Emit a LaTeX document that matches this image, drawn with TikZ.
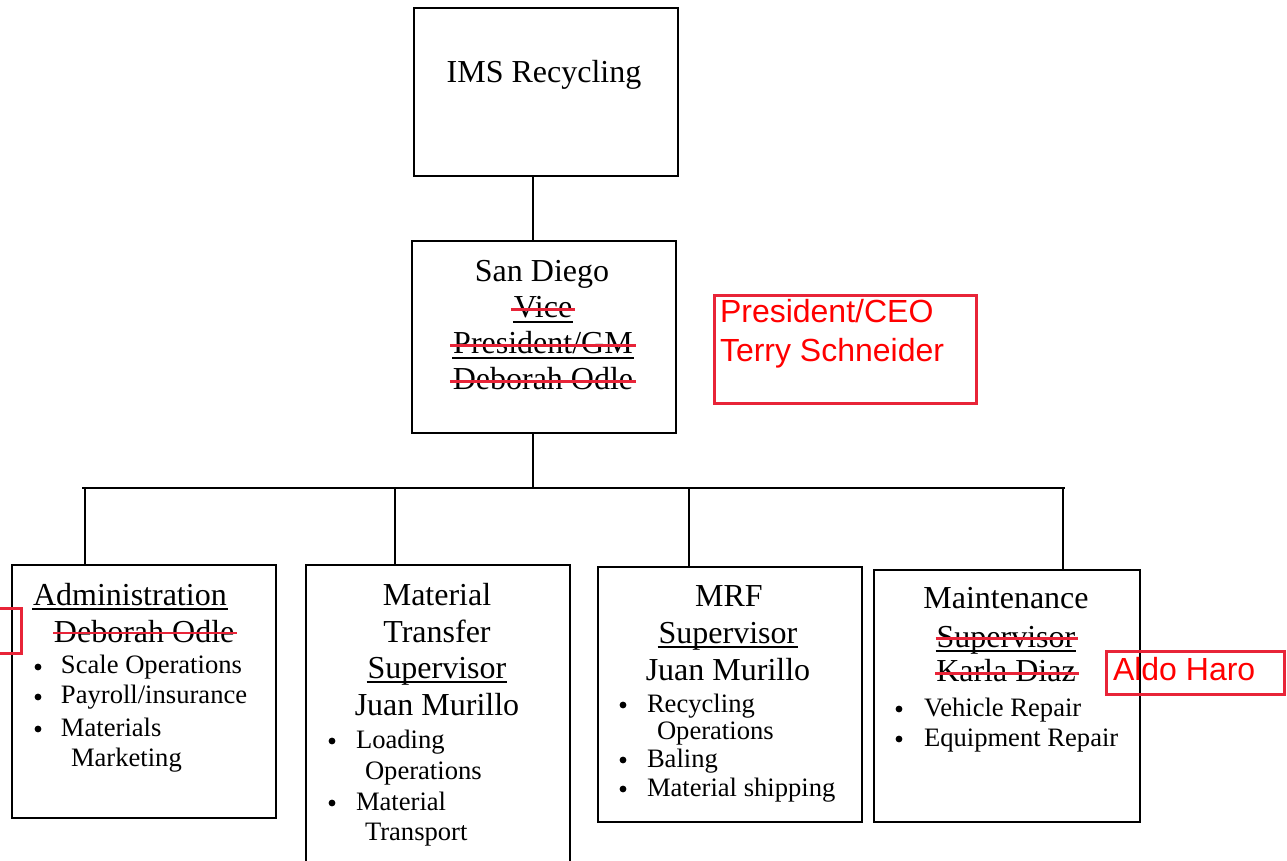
\documentclass[tikz,border=0pt]{standalone}
\usepackage{fontspec}
\setmainfont{Liberation Serif}
\newfontfamily\arialfont{Liberation Sans}
\usepackage{tikz}
\usetikzlibrary{positioning}

\definecolor{editred}{RGB}{232,36,56}
\definecolor{notered}{RGB}{255,0,0}

\newcommand\orghead{\fontsize{16}{19}\selectfont}
\newcommand\orgitem{\fontsize{13.3}{16}\selectfont}
\newcommand\orgnote{\arialfont\fontsize{16}{19}\selectfont}

\tikzset{
  orgbox/.style={draw, line width=1pt, anchor=north west, inner sep=0pt},
  notebox/.style={draw=editred, line width=1.3pt, inner sep=0pt},
  head/.style={font=\orghead, anchor=base, inner sep=0pt},
  headl/.style={font=\orghead, anchor=base west, inner sep=0pt},
  item/.style={font=\orgitem, anchor=base west, inner sep=0pt},
  dot/.style={circle, fill=black, inner sep=0pt, minimum size=3.4pt},
  note/.style={font=\orgnote, text=notered, anchor=base west, inner sep=0pt},
  strikeout/.style={draw=editred, line width=1.2pt},
  underl/.style={draw=black, line width=1pt}
}

\begin{document}
\begin{tikzpicture}[x=0.5pt,y=-0.5pt,line width=1pt]
\useasboundingbox (0,0) rectangle (1287,861);

%boxes
\node[orgbox,minimum width=132pt,minimum height=84pt] (ims) at (413,7) {};
\node[orgbox,minimum width=132pt,minimum height=96pt] (sd) at (411,240) {};
\node[orgbox,minimum width=132pt,minimum height=126.5pt] (admin) at (11,564) {};
\node[orgbox,minimum width=132pt,minimum height=153pt] (mt) at (305,564) {};
\node[orgbox,minimum width=132pt,minimum height=127.5pt] (mrf) at (597,566) {};
\node[orgbox,minimum width=133pt,minimum height=126pt] (mnt) at (873,569) {};

%connectors
\coordinate (spine) at (533,488);
\coordinate (barL) at (82,488);
\coordinate (barR) at (1065,488);
\draw (ims.south -| spine) -- (sd.north -| spine);
\draw (sd.south -| spine) -- (spine);
\draw (barL) -- (barR);
\foreach \n/\x in {admin/85, mt/395, mrf/689, mnt/1063}{
  \coordinate (d\n) at (\x,488);
  \draw (d\n) -- (d\n |- \n.north);
}

%top
\node[head] (imsname) at (544,83) {IMS Recycling};

%San Diego
\node[head] (sd1) at (542,282) {San Diego};
\node[head] (sd2) at (543,318) {Vice};
\node[head] (sd3) at (543,354) {President/GM};
\node[head] (sd4) at (543,390) {Deborah Odle};
\foreach \n in {sd2,sd3}
  \draw[underl] ([yshift=-2pt]\n.base west) -- ([yshift=-2pt]\n.base east);
\foreach \n in {sd2,sd3,sd4}
  \draw[strikeout] ([xshift=-1pt,yshift=4.2pt]\n.base west) -- ([xshift=1pt,yshift=4.2pt]\n.base east);

%new president
\node[notebox,anchor=north west,minimum width=131pt,minimum height=54pt] (ceo) at (713,294) {};
\node[note] (ceo1) at (719,323) {President/CEO};
\node[note] (ceo2) at (719,362) {Terry Schneider};

%Administration
\node[headl] (adm1) at (32,605) {Administration};
\node[headl] (adm2) at (53,642) {Deborah Odle};
\draw[underl] ([yshift=-2pt]adm1.base west) -- ([yshift=-2pt]adm1.base east);
\draw[strikeout] ([yshift=4.5pt]adm2.base west) -- ([xshift=1pt,yshift=4.5pt]adm2.base east);
\node[notebox,anchor=north east,minimum width=50pt,minimum height=22.5pt] (admnote) at (23,607) {};
\foreach \y/\t [count=\i] in {674/{Scale Operations}, 704/{Payroll/insurance}, 736/{Materials}}{
  \node[dot] (admb\i) at (38,\y-7) {};
  \node[item] (admt\i) at (60,\y) {\t};
}
\node[item] (admt4) at (70,766) {Marketing};

%Material Transfer
\node[head] (mt1) at (437,605) {Material};
\node[head] (mt2) at (437,642) {Transfer};
\node[head] (mt3) at (437,678) {Supervisor};
\node[head] (mt4) at (437,715) {Juan Murillo};
\draw[underl] ([yshift=-2pt]mt3.base west) -- ([yshift=-2pt]mt3.base east);
\node[dot] (mtb1) at (332,741) {};
\node[item] (mtt1) at (355,748) {Loading};
\node[item] (mtt2) at (364,779) {Operations};
\node[dot] (mtb2) at (332,803) {};
\node[item] (mtt3) at (355,810) {Material};
\node[item] (mtt4) at (364,840) {Transport};

%MRF
\node[head] (mrf1) at (729,607) {MRF};
\node[head] (mrf2) at (728,643) {Supervisor};
\node[head] (mrf3) at (728,680) {Juan Murillo};
\draw[underl] ([yshift=-2pt]mrf2.base west) -- ([yshift=-2pt]mrf2.base east);
\node[dot] (mrfb1) at (623,705) {};
\node[item] (mrft1) at (646,712) {Recycling};
\node[item] (mrft2) at (656,740) {Operations};
\node[dot] (mrfb2) at (623,760) {};
\node[item] (mrft3) at (646,767) {Baling};
\node[dot] (mrfb3) at (623,789) {};
\node[item] (mrft4) at (646,796) {Material shipping};

%Maintenance
\node[head] (mnt1) at (1006,609) {Maintenance};
\node[head] (mnt2) at (1006,647) {Supervisor};
\node[head] (mnt3) at (1006,682) {Karla Diaz};
\draw[underl] ([yshift=-2pt]mnt2.base west) -- ([yshift=-2pt]mnt2.base east);
\foreach \n in {mnt2,mnt3}
  \draw[strikeout] ([yshift=4.3pt]\n.base west) -- ([xshift=1pt,yshift=4.3pt]\n.base east);
\node[dot] (mntb1) at (899,709) {};
\node[item] (mntt1) at (923,716) {Vehicle Repair};
\node[dot] (mntb2) at (899,739) {};
\node[item] (mntt2) at (923,746) {Equipment Repair};
\node[notebox,anchor=north west,minimum width=89pt,minimum height=21.5pt] (mntnote) at (1105,650) {};
\node[note] (mntn1) at (1112,680) {Aldo Haro};

\end{tikzpicture}
\end{document}
